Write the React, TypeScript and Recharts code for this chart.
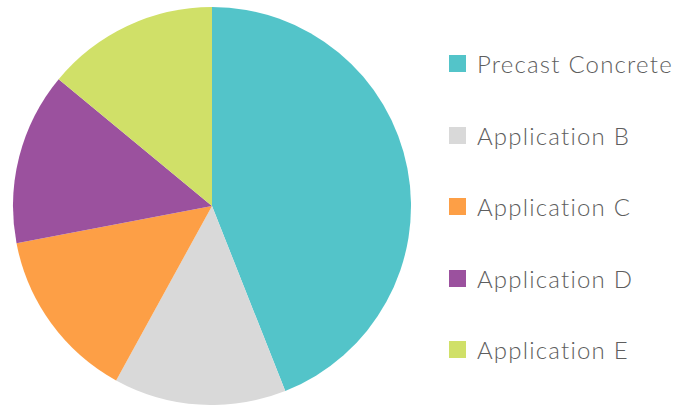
import { PieChart, Pie, Cell, Legend } from 'recharts';

const categories = ['Precast Concrete', 'Application B', 'Application C', 'Application D', 'Application E'];
const shares = [44, 14, 14, 14, 14];
const colors = ['#53C4C9', '#D9D9D9', '#FD9F46', '#9B519E', '#D0E068'];

const data = categories.map((name, i) => ({ name, value: shares[i] }));

function LegendList() {
  return (
    <div style={{ fontFamily: 'Lato, sans-serif', fontWeight: 300 }}>
      {categories.map((name, i) => (
        <div
          key={name}
          style={{ display: 'flex', alignItems: 'center', height: 71.5 }}
        >
          <span style={{ width: 17, height: 17, background: colors[i], display: 'inline-block' }} />
          <span
            style={{
              marginLeft: 11,
              fontSize: 24,
              letterSpacing: 1.2,
              color: '#5e5e5e',
              whiteSpace: 'nowrap',
            }}
          >
            {name}
          </span>
        </div>
      ))}
    </div>
  );
}

export default function App() {
  return (
    <div style={{ position: 'absolute', left: 0, top: 0, width: 675, height: 405, background: '#fff' }}>
      <PieChart width={675} height={405} margin={{ top: 0, right: 0, bottom: 0, left: 0 }}>
        <Pie
          data={data}
          dataKey="value"
          nameKey="name"
          cx={212}
          cy={206}
          outerRadius={199}
          startAngle={90}
          endAngle={-270}
          stroke="none"
          isAnimationActive={false}
        >
          {data.map((d, i) => (
            <Cell key={d.name} fill={colors[i]} />
          ))}
        </Pie>
        <Legend
          content={() => <LegendList />}
          wrapperStyle={{ position: 'absolute', left: 449, top: 28, width: 226 }}
        />
      </PieChart>
    </div>
  );
}
